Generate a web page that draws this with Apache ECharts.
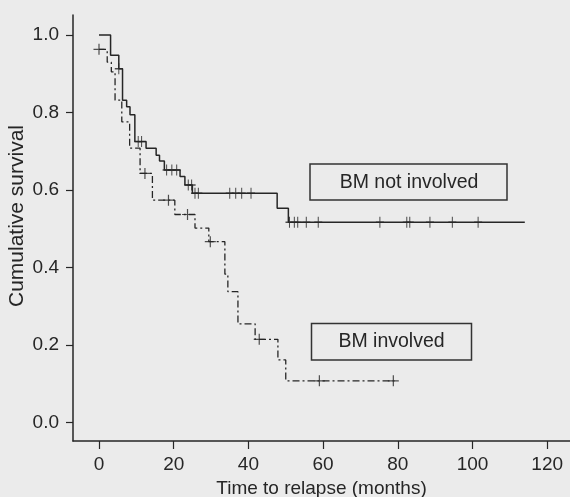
<!DOCTYPE html>
<html><head><meta charset="utf-8">
<script src="https://cdn.jsdelivr.net/npm/echarts@6/dist/echarts.min.js"></script>
<style>html,body{margin:0;padding:0;background:#ebebeb;}#c{width:570px;height:497px;}</style>
</head><body><div id="c"></div>
<script>
// BM not involved: step times (months) and survival levels
const timesNotInv = [0, 3.1, 5.3, 6.3, 7.4, 8.3, 9.6, 12.6, 15.3, 16.2, 17.5, 21.7, 23.0, 25.0, 47.7, 50.7, 114];
const survNotInv  = [1.0, 0.948, 0.913, 0.832, 0.815, 0.794, 0.725, 0.708, 0.690, 0.675, 0.652, 0.635, 0.613, 0.592, 0.553, 0.517, 0.517];
const censorNotInv = [5.3, 10.5, 11.4, 18.1, 19.5, 20.8, 23.9, 24.8, 25.7, 26.6, 35.0, 36.6, 38.2, 40.7, 51.0, 52.3, 53.2, 55.5, 58.7, 75.2, 82.4, 83.2, 88.6, 94.6, 101.5];
// BM involved
const timesInv = [0, 2.2, 3.3, 4.3, 6.1, 8.2, 11.0, 14.3, 20.3, 25.7, 29.4, 33.7, 34.5, 37.2, 41.8, 47.9, 50.0, 79.2];
const survInv  = [0.963, 0.930, 0.905, 0.832, 0.776, 0.708, 0.643, 0.574, 0.537, 0.502, 0.467, 0.383, 0.338, 0.255, 0.215, 0.162, 0.108, 0.108];
const censorInv = [0, 12.3, 18.6, 23.7, 29.8, 42.9, 59.0, 78.8];
// axis ticks
const xTicks = [0, 20, 40, 60, 80, 100, 120];
const yTicks = [0.0, 0.2, 0.4, 0.6, 0.8, 1.0];
const labelNotInv = 'BM not involved';
const labelInv = 'BM involved';

function levelAt(times, surv, t) {
  let s = surv[0];
  for (let i = 0; i < times.length; i++) { if (times[i] <= t) s = surv[i]; }
  return s;
}
const ink = '#262626';
const font = 'Liberation Sans, Arial, Helvetica, sans-serif';
const plus = 'path://M0,-1L0,1M-1,0L1,0';

const chart = echarts.init(document.getElementById('c'), null, {renderer: 'canvas'});
chart.setOption({
  backgroundColor: '#ebebeb',
  animation: false,
  grid: {left: 73, right: 0, top: 15, bottom: 56, containLabel: false, outerBoundsMode: 'none'},
  xAxis: {
    type: 'value', min: -6.96, max: 126.1,
    name: 'Time to relapse (months)', nameLocation: 'middle', nameGap: 37,
    nameTextStyle: {fontFamily: font, fontSize: 19, color: ink},
    axisLine: {show: true, onZero: false, lineStyle: {color: ink, width: 1.5}},
    axisTick: {show: true, length: 8, lineStyle: {color: ink, width: 1.2}, customValues: xTicks},
    axisLabel: {fontFamily: font, fontSize: 19, color: ink, margin: 14, customValues: xTicks},
    splitLine: {show: false}
  },
  yAxis: {
    type: 'value', min: -0.0472, max: 1.0516,
    axisLine: {show: true, onZero: false, lineStyle: {color: ink, width: 1.5}},
    axisTick: {show: true, length: 7, lineStyle: {color: ink, width: 1.2}, customValues: yTicks},
    axisLabel: {fontFamily: font, fontSize: 19, color: ink, margin: 14, customValues: yTicks,
      formatter: v => v.toFixed(1)},
    splitLine: {show: false}
  },
  graphic: [
    {type: 'text', x: 17, y: 216, rotation: Math.PI / 2,
     style: {text: 'Cumulative survival', font: '21px ' + font, fill: ink, align: 'center', verticalAlign: 'middle'}},
    {type: 'rect', shape: {x: 310, y: 164, width: 197, height: 36},
     style: {fill: 'none', stroke: '#333', lineWidth: 1.5}},
    {type: 'text', x: 409, y: 182.5,
     style: {text: labelNotInv, font: '19.5px ' + font, fill: ink, align: 'center', verticalAlign: 'middle'}},
    {type: 'rect', shape: {x: 311.5, y: 323.5, width: 160, height: 36.5},
     style: {fill: 'none', stroke: '#333', lineWidth: 1.5}},
    {type: 'text', x: 391.5, y: 342,
     style: {text: labelInv, font: '19.5px ' + font, fill: ink, align: 'center', verticalAlign: 'middle'}}
  ],
  series: [
    {type: 'line', step: 'end', symbol: 'none',
     data: timesNotInv.map((t, i) => [t, survNotInv[i]]),
     lineStyle: {color: ink, width: 1.5}},
    {type: 'line', step: 'end', symbol: 'none',
     data: timesInv.map((t, i) => [t, survInv[i]]),
     lineStyle: {color: ink, width: 1.3, type: [7, 3, 2, 3]}},
    {type: 'scatter', symbol: plus, symbolSize: [8, 11],
     data: censorNotInv.map(t => [t, levelAt(timesNotInv, survNotInv, t)]),
     itemStyle: {color: 'none', borderColor: ink, borderWidth: 1.2}},
    {type: 'scatter', symbol: plus, symbolSize: [11, 11],
     data: censorInv.map(t => [t, levelAt(timesInv, survInv, t)]),
     itemStyle: {color: 'none', borderColor: ink, borderWidth: 1.2}}
  ]
});
</script>
</body></html>
